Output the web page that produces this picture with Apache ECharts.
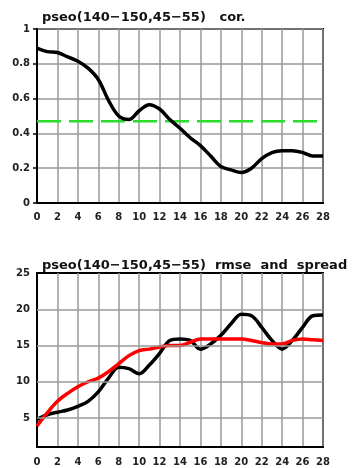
<!DOCTYPE html>
<html><head><meta charset="utf-8">
<script src="https://cdn.jsdelivr.net/npm/echarts@6/dist/echarts.min.js"></script>
<style>html,body{margin:0;padding:0;background:#fff}#c{width:356px;height:468px}</style>
</head><body><div id="c"></div>
<script>
var days = [0,1,2,3,4,5,6,7,8,9,10,11,12,13,14,15,16,17,18,19,20,21,22,23,24,25,26,27,28];
var corValues = [0.89,0.87,0.865,0.84,0.815,0.775,0.71,0.59,0.5,0.48,0.53,0.565,0.54,0.48,0.43,0.375,0.33,0.27,0.21,0.19,0.175,0.2,0.255,0.29,0.3,0.3,0.29,0.27,0.27];
var corRefDays = [0,28];
var corRefValues = [0.47,0.47];
var rmseValues = [4.8,5.45,5.8,6.1,6.6,7.3,8.6,10.5,12.0,11.8,11.1,12.3,13.9,15.7,15.9,15.7,14.5,15.2,16.4,18.0,19.3,19.1,17.5,15.7,14.5,15.7,17.5,19.1,19.2];
var spreadValues = [3.9,5.7,7.3,8.4,9.3,10.0,10.5,11.4,12.5,13.6,14.3,14.5,14.8,15.0,15.0,15.45,15.9,15.9,15.9,15.9,15.9,15.7,15.4,15.2,15.2,15.7,15.9,15.8,15.7];
var xTicks = [0,2,4,6,8,10,12,14,16,18,20,22,24,26,28];
var corTicks = [0,0.2,0.4,0.6,0.8,1];
var rmseTicks = [5,10,15,20,25];
var title1 = 'pseo(140\u2212150,45\u221255)   cor.';
var title2 = 'pseo(140\u2212150,45\u221255)  rmse  and  spread';

function pairs(xs, ys){ return xs.map(function(x,i){ return [x, ys[i]]; }); }

var chart = echarts.init(document.getElementById('c'), null, {renderer:'canvas'});
var labelStyle = {color:'#222', fontFamily:'DejaVu Sans', fontWeight:'bold', fontSize:10};
var gridLine = {show:true, lineStyle:{color:'#999', width:1.5, type:'solid'}};
var axLine = {show:true, onZero:false, lineStyle:{color:'#000', width:2}};
var titleStyle = {fontFamily:'DejaVu Sans', fontWeight:'bold', fontSize:13, color:'#111'};

chart.setOption({
  animation:false,
  backgroundColor:'#fff',
  title:[
    {text:title1, left:42, top:11, padding:0, textStyle:titleStyle},
    {text:title2, left:42, top:259, padding:0, textStyle:titleStyle}
  ],
  grid:[
    {left:37, width:286, top:29, height:174, show:true, borderColor:'#000', borderWidth:2, backgroundColor:'#fff'},
    {left:37, width:286, top:273, height:174, show:true, borderColor:'#000', borderWidth:2, backgroundColor:'#fff'}
  ],
  xAxis:[
    {gridIndex:0, type:'value', min:0, max:28, interval:2, axisLine:axLine, axisTick:{show:false}, splitLine:gridLine,
     axisLabel:Object.assign({margin:9}, labelStyle)},
    {gridIndex:1, type:'value', min:0, max:28, interval:2, axisLine:axLine, axisTick:{show:false}, splitLine:gridLine,
     axisLabel:Object.assign({margin:10}, labelStyle)}
  ],
  yAxis:[
    {gridIndex:0, type:'value', min:0, max:1, interval:0.2, axisLine:axLine,
     axisTick:{show:true, length:4, lineStyle:{color:'#000', width:1.5}}, splitLine:gridLine,
     axisLabel:Object.assign({margin:7}, labelStyle)},
    {gridIndex:1, type:'value', min:1, max:25, interval:1, axisLine:axLine, axisTick:{show:false}, splitLine:{show:false},
     axisLabel:Object.assign({margin:7, formatter:function(v){ return rmseTicks.indexOf(v) >= 0 ? String(v) : ''; }}, labelStyle)}
  ],
  series:[
    {type:'line', xAxisIndex:0, yAxisIndex:0, data:pairs(corRefDays, corRefValues), symbol:'none', z:2,
     lineStyle:{color:'#2bdc2b', width:2.5, type:[24,8]}},
    {type:'line', xAxisIndex:0, yAxisIndex:0, data:pairs(days, corValues), symbol:'none', smooth:0.35, z:3,
     lineStyle:{color:'#000', width:3.5}},
    {type:'line', xAxisIndex:1, yAxisIndex:1, data:[], symbol:'none', z:1, silent:true,
     markLine:{silent:true, symbol:'none', label:{show:false}, animation:false,
       lineStyle:{color:'#999', width:1.5, type:'solid'},
       data:rmseTicks.slice(0, rmseTicks.length-1).map(function(v){ return {yAxis:v}; })}},
    {type:'line', xAxisIndex:1, yAxisIndex:1, data:pairs(days, rmseValues), symbol:'none', smooth:0.35, z:3,
     lineStyle:{color:'#000', width:3.5}},
    {type:'line', xAxisIndex:1, yAxisIndex:1, data:pairs(days, spreadValues), symbol:'none', smooth:0.35, z:4,
     lineStyle:{color:'#ff0000', width:3.5}}
  ]
});
</script></body></html>
